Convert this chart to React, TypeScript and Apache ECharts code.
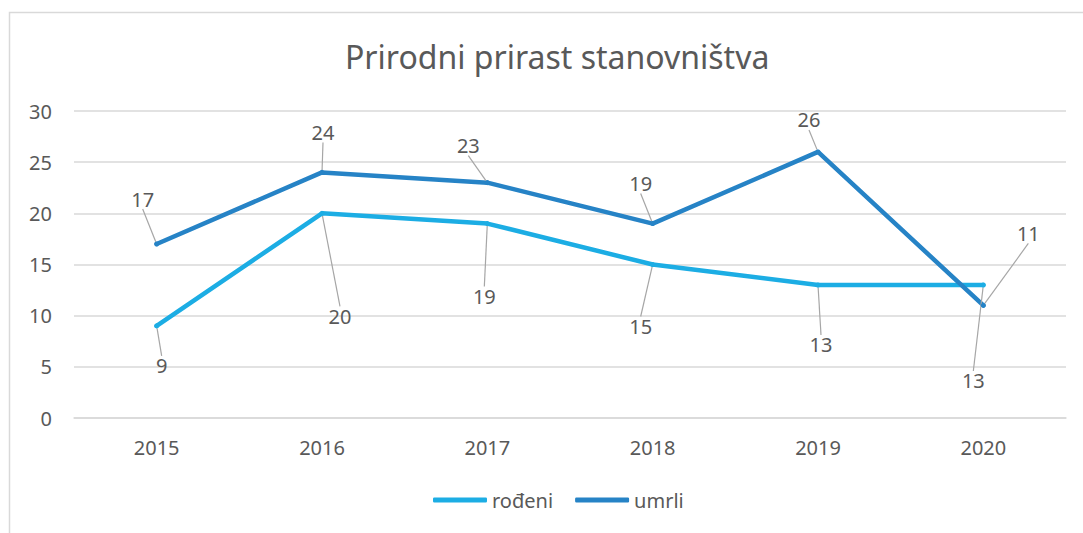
import React, { useEffect, useRef } from "react";
import * as echarts from "echarts";

const categories = ["2015", "2016", "2017", "2018", "2019", "2020"];
const rodeni = [9, 20, 19, 15, 13, 13];
const umrli = [17, 24, 23, 19, 26, 11];
const seriesNames = ["rođeni", "umrli"];
const title = "Prirodni prirast stanovništva";

// label offsets (px) from each point to its label centre
const rodeniOffsets = [[5, 40], [18, 103], [-3, 73], [-12, 62], [3, 60], [-10, 96]];
const umrliOffsets = [[-14, -45], [1, -40], [-19, -37], [-12, -40], [-9, -32], [45, -72]];

const FONT = "'Noto Sans', 'Open Sans', sans-serif";
const TEXT = "#595959";

export default function App() {
  const ref = useRef<HTMLDivElement>(null);
  useEffect(() => {
    if (!ref.current) return;
    const chart = echarts.init(ref.current, undefined, { renderer: "svg" });
    const mkSeries = (name: string, data: number[], color: string, offs: number[][]) => ({
      name,
      type: "line",
      data,
      symbol: "circle",
      symbolSize: 5,
      showSymbol: true,
      itemStyle: { color },
      lineStyle: { color, width: 4.5, cap: "round", join: "round" },
      label: {
        show: true,
        position: "inside",
        color: TEXT,
        fontSize: 20,
        fontFamily: FONT,
        padding: [2, 3],
      },
      labelLine: { show: true, lineStyle: { color: "#A6A6A6", width: 1.2 } },
      labelLayout: (p: any) => ({ dx: offs[p.dataIndex][0], dy: offs[p.dataIndex][1] }),
      z: 2,
    });
    chart.setOption({
      animation: false,
      backgroundColor: "#fff",
      title: {
        text: title,
        left: 340,
        top: 35,
        textStyle: { color: TEXT, fontSize: 32, fontWeight: "normal", fontFamily: FONT },
      },
      graphic: [
        {
          type: "rect",
          shape: { x: 9.5, y: 12.5, width: 1200, height: 700 },
          style: { fill: "none", stroke: "#D9D9D9", lineWidth: 1.5 },
          silent: true,
          z: -1,
        },
      ],
      legend: {
        data: seriesNames,
        bottom: 18,
        left: 428,
        icon: "roundRect",
        itemWidth: 54,
        itemHeight: 5,
        itemGap: 22,
        textStyle: { color: TEXT, fontSize: 20, fontFamily: FONT },
      },
      grid: { left: 74, right: 17, top: 111, bottom: 115, containLabel: false },
      xAxis: {
        type: "category",
        data: categories,
        boundaryGap: true,
        axisLine: { show: true, lineStyle: { color: "#D9D9D9", width: 1.5 } },
        axisTick: { show: false },
        axisLabel: { color: TEXT, fontSize: 20, fontFamily: FONT, margin: 19 },
      },
      yAxis: {
        type: "value",
        min: 0,
        max: 30,
        interval: 5,
        axisLine: { show: false },
        axisTick: { show: false },
        axisLabel: { color: TEXT, fontSize: 20, fontFamily: FONT, margin: 22 },
        splitLine: { lineStyle: { color: "#D9D9D9", width: 1.5 } },
      },
      series: [
        mkSeries(seriesNames[0], rodeni, "#1CADE4", rodeniOffsets),
        mkSeries(seriesNames[1], umrli, "#2683C6", umrliOffsets),
      ],
    });
    return () => chart.dispose();
  }, []);
  return (
    <div
      ref={ref}
      style={{ position: "fixed", left: 0, top: 0, width: 1083, height: 533 }}
    />
  );
}
